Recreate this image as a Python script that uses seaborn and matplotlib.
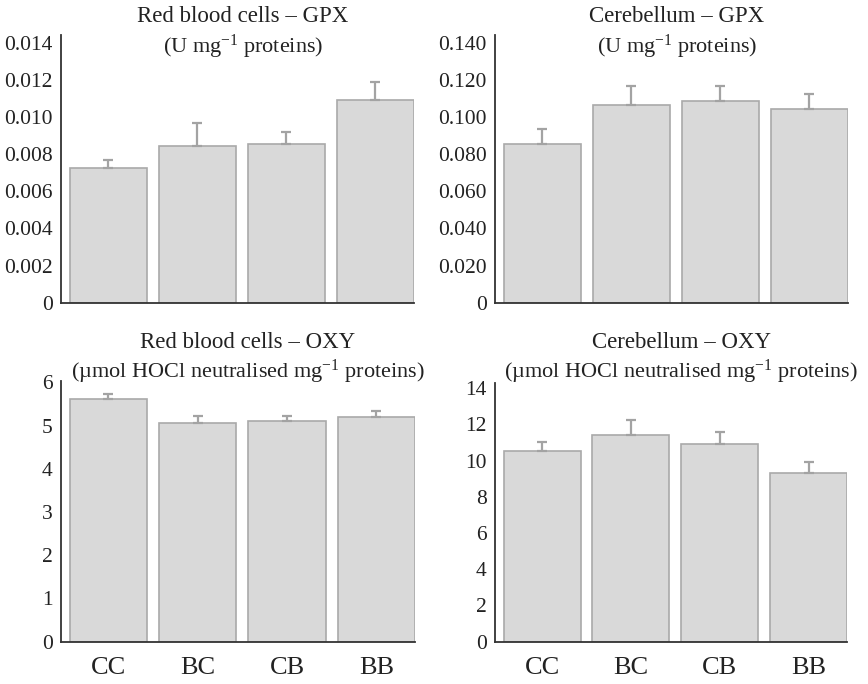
import matplotlib
matplotlib.use("Agg")
import matplotlib.pyplot as plt
import seaborn as sns
import pandas as pd

groups = ["CC", "BC", "CB", "BB"]

rbc_gpx = [0.00724, 0.00844, 0.00854, 0.0109]
rbc_gpx_err = [0.00045, 0.00126, 0.00066, 0.0010]

cer_gpx = [0.0856, 0.1064, 0.1084, 0.1041]
cer_gpx_err = [0.0081, 0.0103, 0.0083, 0.0084]

rbc_oxy = [5.62, 5.05, 5.10, 5.20]
rbc_oxy_err = [0.12, 0.18, 0.13, 0.13]

cer_oxy = [10.55, 11.40, 10.94, 9.34]
cer_oxy_err = [0.48, 0.83, 0.63, 0.60]

titles = [
    ("Red blood cells \u2013 GPX", r"(U mg$^{\mathrm{-1}}$ proteins)"),
    ("Cerebellum \u2013 GPX", r"(U mg$^{\mathrm{-1}}$ proteins)"),
    ("Red blood cells \u2013 OXY", "(\u00b5mol HOCl neutralised mg" + r"$^{\mathrm{-1}}$" + " proteins)"),
    ("Cerebellum \u2013 OXY", "(\u00b5mol HOCl neutralised mg" + r"$^{\mathrm{-1}}$" + " proteins)"),
]
yticks = [
    ([0, 0.002, 0.004, 0.006, 0.008, 0.010, 0.012, 0.014],
     ["0", "0.002", "0.004", "0.006", "0.008", "0.010", "0.012", "0.014"]),
    ([0, 0.02, 0.04, 0.06, 0.08, 0.10, 0.12, 0.14],
     ["0", "0.020", "0.040", "0.060", "0.080", "0.100", "0.120", "0.140"]),
    ([0, 1, 2, 3, 4, 5, 6], ["0", "1", "2", "3", "4", "5", "6"]),
    ([0, 2, 4, 6, 8, 10, 12, 14], ["0", "2", "4", "6", "8", "10", "12", "14"]),
]
ylims = [(0, 0.0144), (0, 0.144), (0, 6.03), (0, 14.3)]
series = [(rbc_gpx, rbc_gpx_err), (cer_gpx, cer_gpx_err),
          (rbc_oxy, rbc_oxy_err), (cer_oxy, cer_oxy_err)]

sns.set_theme(style="white")
plt.rcParams["font.family"] = ["Liberation Serif", "DejaVu Serif"]
plt.rcParams["mathtext.fontset"] = "custom"
plt.rcParams["mathtext.rm"] = "Liberation Serif"
plt.rcParams["mathtext.it"] = "Liberation Serif:italic"
plt.rcParams["mathtext.bf"] = "Liberation Serif:bold"

fig = plt.figure(figsize=(8.68, 6.84), dpi=100)
W, H = 868, 684
# axes boxes in pixel coords: left, right, top(spine), bottom(zero)
boxes = [
    (61, 414, 35.3, 302.7),
    (495, 848, 35.3, 302.7),
    (61, 415, 381.0, 641.7),
    (495, 847, 382.7, 641.7),
]
title_pos = [
    (243, 17, 47),
    (677, 17, 47),
    (248, 343, 372),
    (681, 343, 372),
]

fill = "#d9d9d9"
edge = "#a9a9a9"
errc = "#a3a3a3"
spine_c = "#333333"

for i, ((l, r, t, b), (vals, errs)) in enumerate(zip(boxes, series)):
    ax = fig.add_axes([l / W, 1 - b / H, (r - l) / W, (b - t) / H])
    df = pd.DataFrame({"group": groups, "value": vals})
    sns.barplot(data=df, x="group", y="value", ax=ax, color=fill,
                edgecolor=edge, linewidth=1.2, width=0.865, saturation=1)
    ax.errorbar(range(len(groups)), vals, yerr=[[0] * len(errs), errs],
                fmt="none", ecolor=errc, elinewidth=1.6, capsize=3.5,
                capthick=1.6, zorder=3)
    ax.set_xlim(-0.53, 3.4325)
    ax.set_ylim(*ylims[i])
    ax.set_yticks(yticks[i][0])
    ax.set_yticklabels(yticks[i][1])
    ax.set_xlabel("")
    ax.set_ylabel("")
    ax.tick_params(axis="y", length=0, pad=6, labelsize=15.5, colors="#222222")
    if i >= 2:
        ax.set_xticks(range(len(groups)))
        ax.set_xticklabels(groups)
        ax.tick_params(axis="x", length=0, pad=11, labelsize=19, colors="#222222")
    else:
        ax.set_xticks([])
    for s in ["top", "right"]:
        ax.spines[s].set_visible(False)
    for s in ["left", "bottom"]:
        ax.spines[s].set_color(spine_c)
        ax.spines[s].set_linewidth(1.3)
    ax.set_facecolor("white")
    cx, y1, y2 = title_pos[i]
    fig.text(cx / W, 1 - y1 / H, titles[i][0], ha="center", va="center",
             fontsize=16.5, color="#222222")
    fig.text(cx / W, 1 - y2 / H, titles[i][1], ha="center", va="center",
             fontsize=16, color="#222222")

fig.savefig("out.png", dpi=100, facecolor="white")
